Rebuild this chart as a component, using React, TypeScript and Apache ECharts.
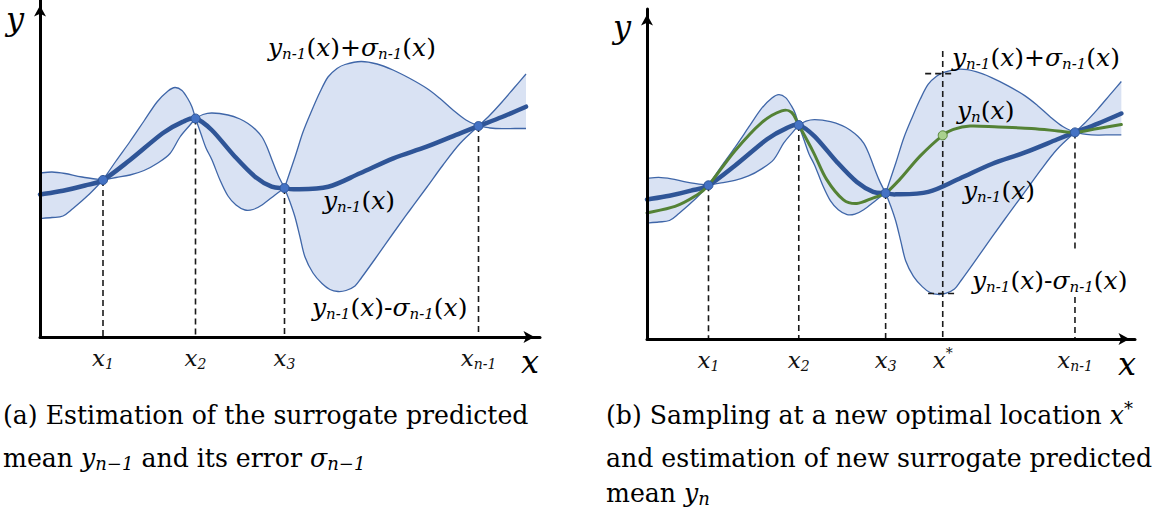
import React, { useEffect, useRef } from 'react';
import * as echarts from 'echarts';

// Observed samples x1, x2, x3, x_{n-1} (shared by both panels)
const sampleX = [63, 155.5, 244.5, 438.5];
const sampleY = [157, 218.5, 149, 211];
const sampleSub = ['1', '2', '3', 'n-1'];

// Surrogate predicted mean y_{n-1}(x)
const meanCurve: number[][] = [
  [0, 142.5], [23, 146.3], [45, 151.5], [63, 157], [90, 177], [123, 204], [143, 215.3], [155.5, 218.5],
  [171.7, 207], [195, 180.3], [215, 160.3], [231.7, 150.3], [244.5, 149], [255, 147.7], [288.3, 150.3],
  [320, 163.7], [353.3, 178.7], [386.7, 190.3], [420, 203.7], [438.5, 211], [462, 220], [486, 230.3],
];

// y_{n-1}(x) + sigma_{n-1}(x)
const upperBound: number[][] = [
  [0, 164], [12, 165], [25, 163.5], [42, 160], [63, 157],
  [76, 176], [90, 195.5], [104, 216], [117, 235], [128, 246], [135, 249.5], [142, 246.5], [148, 238], [152, 230], [155.5, 218.5],
  [163, 222.5], [172, 224], [188, 222], [200, 218], [208, 213.5], [216, 207], [222, 200], [227, 190], [232, 177], [238, 162], [244.5, 149],
  [255, 180], [263, 205], [272, 227], [280, 245], [288, 260], [297, 268.5], [305, 272.5], [321, 275.5], [337, 273], [353, 267],
  [370, 258.5], [387, 248.5], [400, 238.5], [413, 227], [426, 217], [438.5, 211],
  [450, 222], [462, 235], [474, 249], [486, 263],
];

// y_{n-1}(x) - sigma_{n-1}(x)
const lowerBound: number[][] = [
  [0, 118.5], [12, 119.5], [23, 121], [33, 128.5], [50, 143.5], [63, 157],
  [76, 159.5], [90, 162], [104, 166.5], [117, 173.5], [130, 183.5], [140, 200], [150, 212], [155.5, 218.5],
  [161, 203], [166, 189], [172, 177], [180, 157], [188, 141], [196, 132], [205, 127], [213, 127.5], [222, 132], [235, 142], [244.5, 149],
  [250, 135], [255, 120], [260, 100], [265, 80], [273, 64], [282, 53.5], [290, 47.5], [298, 45.5], [306, 46.5], [315, 51], [322, 60],
  [335, 78], [353, 103.5], [370, 127], [387, 150], [403, 172], [420, 193.5], [438.5, 211],
  [450, 209], [462, 208.3], [475, 208.5], [486, 208.5],
];

// New surrogate predicted mean y_n(x) after sampling x*
const updatedMean: number[][] = [
  [0, 128.8], [28.7, 135.5], [49, 145.8], [63, 157], [90, 192], [117.5, 221], [138, 233], [148.3, 231.3], [155.5, 218.5],
  [170.4, 190.9], [184, 163], [201, 142.4], [215, 138.3], [232, 144.2], [244.5, 149],
  [259, 163], [280, 187], [303, 208], [314, 214], [331, 217.5], [360, 216.5], [394, 215], [421, 212.5], [438.5, 211],
  [462, 215], [486, 219],
];

// New optimal location x* and the band limits read there
const xStar = 303;
const yStar = 208;
const upperAtStar = 271;
const lowerAtStar = 46.5;

const FONT = 'DejaVu Serif';
const INK = '#111';

const PANELS = [
  { left: 40, top: 0, width: 500, height: 337 },
  { left: 647, top: 9, width: 488, height: 330 },
];

// Catmull-Rom spline through the points, written as cubic Bezier path data
function smoothPath(pts: number[][], start: string): string {
  let d = `${start}${pts[0][0]},${pts[0][1]}`;
  for (let i = 0; i < pts.length - 1; i++) {
    const p0 = pts[i - 1] || pts[i];
    const p1 = pts[i];
    const p2 = pts[i + 1];
    const p3 = pts[i + 2] || p2;
    const c1x = p1[0] + (p2[0] - p0[0]) / 6;
    const c1y = p1[1] + (p2[1] - p0[1]) / 6;
    const c2x = p2[0] - (p3[0] - p1[0]) / 6;
    const c2y = p2[1] - (p3[1] - p1[1]) / 6;
    d += ` C${c1x},${c1y} ${c2x},${c2y} ${p2[0]},${p2[1]}`;
  }
  return d;
}

// The band limits meet the mean at every sample: split them there into arcs
function splitArcs(pts: number[][]): number[][][] {
  const arcs: number[][][] = [];
  let cur = [pts[0]];
  for (let i = 1; i < pts.length; i++) {
    cur.push(pts[i]);
    if (i < pts.length - 1 && sampleX.includes(pts[i][0])) {
      arcs.push(cur);
      cur = [pts[i]];
    }
  }
  arcs.push(cur);
  return arcs;
}

function bandFillSeries(idx: number) {
  return {
    type: 'custom', xAxisIndex: idx, yAxisIndex: idx, z: 1, silent: true,
    data: [[0, 0]],
    renderItem: (_p: any, api: any) => {
      const up = splitArcs(upperBound).map((a) => a.map((p) => api.coord(p)));
      const lo = splitArcs(lowerBound).map((a) => a.map((p) => api.coord(p)).reverse()).reverse();
      let d = '';
      up.forEach((a, k) => { d += ' ' + smoothPath(a, k === 0 ? 'M' : 'L'); });
      lo.forEach((a) => { d += ' ' + smoothPath(a, 'L'); });
      d += ' Z';
      return { type: 'path', shape: { pathData: d }, style: { fill: '#d9e2f3', stroke: null } };
    },
  };
}

function bandEdgeSeries(idx: number) {
  return {
    type: 'custom', xAxisIndex: idx, yAxisIndex: idx, z: 2, silent: true,
    data: [[0, 0]],
    renderItem: (_p: any, api: any) => {
      const arcs = [...splitArcs(upperBound), ...splitArcs(lowerBound)];
      const d = arcs.map((a) => smoothPath(a.map((p) => api.coord(p)), 'M')).join(' ');
      return { type: 'path', shape: { pathData: d }, style: { fill: 'none', stroke: '#3f66a8', lineWidth: 1.3 } };
    },
  };
}

function curveSeries(idx: number, pts: number[][], color: string, width: number, z: number) {
  return {
    type: 'custom', xAxisIndex: idx, yAxisIndex: idx, z, silent: true,
    data: [[0, 0]],
    renderItem: (_p: any, api: any) => {
      const d = smoothPath(pts.map((p) => api.coord(p)), 'M');
      return {
        type: 'path', shape: { pathData: d },
        style: { fill: 'none', stroke: color, lineWidth: width, lineCap: 'round', lineJoin: 'round' },
      };
    },
  };
}

function dashSeries(idx: number, segs: number[][]) {
  return {
    type: 'custom', xAxisIndex: idx, yAxisIndex: idx, z: 3, silent: true,
    data: segs,
    renderItem: (_p: any, api: any) => {
      const a = api.coord([api.value(0), api.value(1)]);
      const b = api.coord([api.value(2), api.value(3)]);
      return {
        type: 'line', shape: { x1: a[0], y1: a[1], x2: b[0], y2: b[1] },
        style: { stroke: '#1a1a1a', lineWidth: 1.6, lineDash: [6, 4] },
      };
    },
  };
}

const dashesA = sampleX.map((x, i) => [x, sampleY[i], x, 0]);
const dashesB = [
  ...sampleX.slice(0, 3).map((x, i) => [x, sampleY[i], x, 0]),
  [sampleX[3], sampleY[3], sampleX[3], 89],
  [sampleX[3], 43, sampleX[3], 0],
  [xStar, 294, xStar, 0],
  [xStar - 18, upperAtStar, xStar + 11, upperAtStar],
  [xStar - 15, lowerAtStar, xStar + 14, lowerAtStar],
];

// Rich styles for math: italic letters, upright symbols, lowered subscripts, raised superscripts
const mathRich = (size: number, sub: number) => {
  const lh = Math.round(size * 1.1);
  const slh = Math.round(sub * 1.0);
  const shift = Math.round(size * 0.5);
  return {
    i: { fontFamily: FONT, fontStyle: 'italic', fontSize: size, lineHeight: lh, color: INK, verticalAlign: 'middle' },
    r: { fontFamily: FONT, fontSize: size, lineHeight: lh, color: INK, verticalAlign: 'middle' },
    t: { fontFamily: FONT, fontSize: size, lineHeight: lh, color: INK, verticalAlign: 'middle' },
    s: { fontFamily: FONT, fontStyle: 'italic', fontSize: sub, lineHeight: slh, color: INK, verticalAlign: 'middle', padding: [shift, 0, 0, 0] },
    p: { fontFamily: FONT, fontSize: sub, lineHeight: slh, color: INK, verticalAlign: 'middle', padding: [0, 0, Math.round(size * 0.6), 0] },
  };
};

const tickRich = mathRich(23, 14);

function tickFormatter(v: number) {
  if (v === xStar) return '{i|x}{p|*}';
  const i = sampleX.indexOf(v);
  return `{i|x}{s|${sampleSub[i]}}`;
}

const plusLabel = '{i|y}{s|n-1}{r|(}{i|x}{r|)+}{i|σ}{s|n-1}{r|(}{i|x}{r|)}';
const minusLabel = '{i|y}{s|n-1}{r|(}{i|x}{r|)-}{i|σ}{s|n-1}{r|(}{i|x}{r|)}';
const meanLabel = '{i|y}{s|n-1}{r|(}{i|x}{r|)}';
const newMeanLabel = '{i|y}{s|n}{r|(}{i|x}{r|)}';

function mathText(x: number, y: number, text: string, size = 25, sub = 15) {
  return {
    type: 'text', x, y, silent: true, z: 20,
    style: { text, rich: mathRich(size, sub), fontFamily: FONT, align: 'left', verticalAlign: 'middle' },
  };
}

const CAP = 25.2;
const capRich = {
  t: { fontFamily: FONT, fontSize: CAP, lineHeight: 30, color: INK, verticalAlign: 'middle' },
  m: { fontFamily: FONT, fontStyle: 'italic', fontSize: CAP, lineHeight: 30, color: INK, verticalAlign: 'middle' },
  ms: { fontFamily: FONT, fontStyle: 'italic', fontSize: 18, lineHeight: 16, color: INK, verticalAlign: 'middle', padding: [11, 0, 0, 0] },
  mp: { fontFamily: FONT, fontSize: 18, lineHeight: 16, color: INK, verticalAlign: 'middle', padding: [0, 0, 13, 0] },
};

function caption(x: number, y: number, text: string) {
  return {
    type: 'text', x, y, silent: true,
    style: { text, rich: capRich, fontFamily: FONT, align: 'left', verticalAlign: 'middle' },
  };
}

const option = {
  animation: false,
  backgroundColor: '#ffffff',
  grid: PANELS.map((p) => ({ ...p, containLabel: false })),
  xAxis: PANELS.map((_, i) => ({
    type: 'value', gridIndex: i, min: 0, max: 500, z: 10,
    axisLine: {
      show: true, onZero: false, symbol: ['none', 'arrow'], symbolSize: [9, 11], symbolOffset: [0, -5.5],
      lineStyle: { color: '#000', width: 3 },
    },
    axisTick: { show: false },
    splitLine: { show: false },
    axisLabel: {
      show: true,
      customValues: i === 0 ? sampleX : [...sampleX, xStar],
      formatter: tickFormatter,
      rich: tickRich,
      fontFamily: FONT,
      margin: 8,
    },
  })),
  yAxis: PANELS.map((_, i) => ({
    type: 'value', gridIndex: i, min: 0, max: 337, z: 10,
    axisLine: {
      show: true, onZero: false, symbol: ['none', 'arrow'], symbolSize: [9, 11], symbolOffset: [0, -5.5],
      lineStyle: { color: '#000', width: 3 },
    },
    axisTick: { show: false },
    splitLine: { show: false },
    axisLabel: { show: false },
  })),
  series: [
    ...[0, 1].flatMap((i) => [bandFillSeries(i), bandEdgeSeries(i)]),
    dashSeries(0, dashesA),
    dashSeries(1, dashesB),
    curveSeries(0, meanCurve, '#2f5597', 4.5, 4),
    curveSeries(1, meanCurve, '#2f5597', 4.5, 4),
    curveSeries(1, updatedMean, '#548235', 3, 5),
    ...[0, 1].map((i) => ({
      type: 'scatter', xAxisIndex: i, yAxisIndex: i, z: 6, silent: true,
      symbol: 'circle', symbolSize: 9,
      itemStyle: { color: '#4472c4', borderColor: '#2f5597', borderWidth: 1, opacity: 1 },
      data: sampleX.map((x, k) => [x, sampleY[k]]),
    })),
    {
      type: 'scatter', xAxisIndex: 1, yAxisIndex: 1, z: 6, silent: true,
      symbol: 'circle', symbolSize: 9,
      itemStyle: { color: '#a9d18e', borderColor: '#548235', borderWidth: 1, opacity: 1 },
      data: [[xStar, yStar]],
    },
  ],
  graphic: [
    // axis names
    mathText(6, 19, '{i|y}', 32, 16),
    mathText(521, 362, '{i|x}', 32, 16),
    mathText(613, 27, '{i|y}', 32, 16),
    mathText(1118, 364, '{i|x}', 32, 16),
    // curve annotations, panel (a)
    mathText(268, 47, plusLabel),
    mathText(323, 200, meanLabel),
    mathText(312, 307, minusLabel),
    // curve annotations, panel (b)
    mathText(952, 57, plusLabel),
    mathText(957, 110, newMeanLabel),
    mathText(963, 190, meanLabel),
    mathText(972, 280, minusLabel),
    // captions
    caption(3, 415, '{t|(a) Estimation of the surrogate predicted}'),
    caption(3, 458, '{t|mean }{m|y}{ms|n−1}{t| and its error }{m|σ}{ms|n−1}'),
    caption(606, 415, '{t|(b) Sampling at a new optimal location }{m|x}{mp|*}'),
    caption(606, 458, '{t|and estimation of new surrogate predicted}'),
    caption(606, 493, '{t|mean }{m|y}{ms|n}'),
  ],
};

export default function App() {
  const ref = useRef<HTMLDivElement>(null);
  useEffect(() => {
    const chart = echarts.init(ref.current!, null, { renderer: 'svg' });
    chart.setOption(option as any);
    return () => chart.dispose();
  }, []);
  return (
    <div
      ref={ref}
      style={{ position: 'fixed', left: 0, top: 0, width: 1158, height: 510, background: '#fff' }}
    />
  );
}
